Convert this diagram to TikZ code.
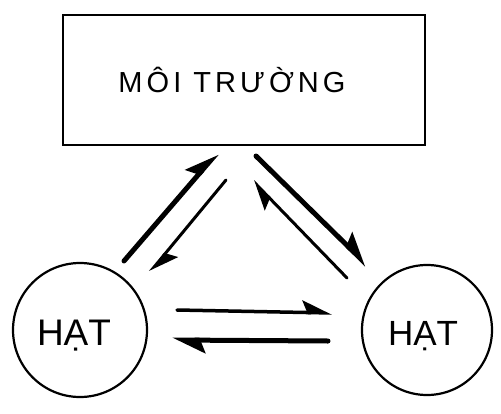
\documentclass[tikz,border=0pt]{standalone}
\usepackage{fontspec}
\setmainfont{Liberation Sans}
\usetikzlibrary{arrows.meta}
\begin{document}
\begin{tikzpicture}[x=1pt,y=-1pt,
  boxst/.style={draw,line width=2.5pt,rectangle,minimum width=362pt,minimum height=130pt,inner sep=0pt},
  circst/.style={draw,line width=2.2pt,circle,inner sep=0pt},
  lbl/.style={anchor=base,inner sep=0pt},
  thickarr/.style={line width=5pt,line cap=round,-{Stealth[left,length=28pt,width=26pt,inset=5pt]}},
  thinarr/.style={line width=3pt,line cap=round,-{Stealth[left,length=26pt,width=24pt,inset=5pt]}}]
\useasboundingbox (0,0) rectangle (501,413);
\node[boxst] (env) at (244,80) {};
\node[lbl,font=\fontsize{29}{31}\selectfont\addfontfeature{LetterSpace=14}] (envtext) at (232,92) {MÔI TRƯỜNG};
\node[circst,minimum size=134pt] (p1) at (80,330) {};
\node[circst,minimum size=130pt] (p2) at (427,330) {};
\node[lbl,font=\fontsize{37}{40}\selectfont] (t1) at (74,345) {HẠT};
\node[lbl,font=\fontsize{35}{40}\selectfont] (t2) at (423,345) {HẠT};
% arrow end points
\coordinate (a1s) at (124,261); \coordinate (a1e) at (217,153);
\coordinate (a2s) at (226,180); \coordinate (a2e) at (150,272);
\coordinate (a3s) at (256,156); \coordinate (a3e) at (367,265);
\coordinate (a4s) at (347,278); \coordinate (a4e) at (253,181);
\coordinate (a5s) at (177,310); \coordinate (a5e) at (332,313);
\coordinate (a6s) at (328,341); \coordinate (a6e) at (172,340);
\draw[thickarr] (a1s) -- (a1e);
\draw[thinarr] (a2s) -- (a2e);
\draw[thickarr] (a3s) -- (a3e);
\draw[thinarr] (a4s) -- (a4e);
\draw[thinarr,line width=3.5pt] (a5s) -- (a5e);
\draw[thickarr] (a6s) -- (a6e);
\end{tikzpicture}
\end{document}
